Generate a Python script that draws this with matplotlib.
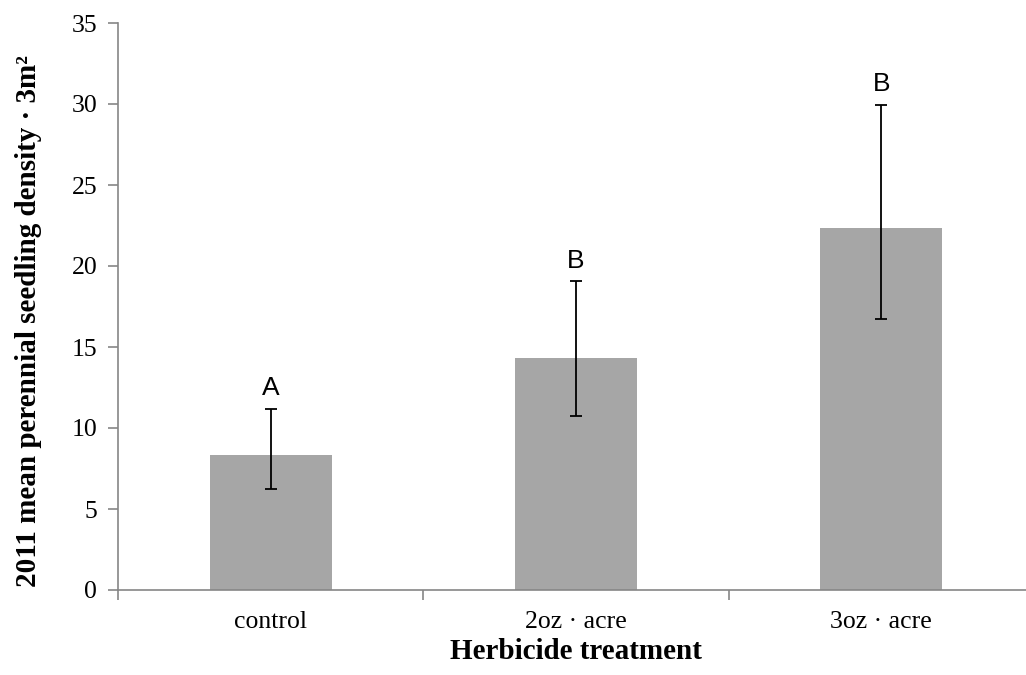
import matplotlib
matplotlib.use("Agg")
import matplotlib.pyplot as plt

treatments = ["control", "2oz \u00b7 acre", "3oz \u00b7 acre"]
density = [8.33, 14.3, 22.35]
err_low = [6.23, 10.72, 16.7]
err_high = [11.2, 19.05, 29.92]
letters = ["A", "B", "B"]

axis_grey = "#868686"
bar_grey = "#A6A6A6"

fig = plt.figure(figsize=(10.26, 6.75), dpi=100)
# axes spans x 118..1034 px, y 23..590 px
ax = fig.add_axes([118 / 1026, 85 / 675, 916 / 1026, 567 / 675])

x = list(range(len(treatments)))
lower = [d - lo for d, lo in zip(density, err_low)]
upper = [hi - d for d, hi in zip(density, err_high)]

ax.bar(x, density, width=0.4, color=bar_grey, zorder=2)
ax.errorbar(x, density, yerr=[lower, upper], fmt="none", ecolor="black",
            elinewidth=1.3, capsize=4.3, capthick=1.3, zorder=3)

for xi, hi, lab in zip(x, err_high, letters):
    ax.annotate(lab, (xi, hi), textcoords="offset points", xytext=(0, 10),
                ha="center", va="baseline", fontsize=19,
                family="Liberation Sans")

ax.set_xlim(-0.5, 2.5)
ax.set_ylim(0, 35)
ax.set_yticks(range(0, 36, 5))

ax.set_xticks([-0.5, 0.5, 1.5, 2.5])
ax.set_xticklabels([])
ax.set_xticks(x, minor=True)
ax.set_xticklabels(treatments, minor=True, fontsize=18.5, family="Liberation Serif")
ax.tick_params(axis="x", which="minor", length=0, pad=15)
ax.tick_params(axis="x", which="major", direction="out", length=7, color=axis_grey, width=1.2)
ax.tick_params(axis="y", direction="out", length=7, color=axis_grey, width=1.2, pad=8)
for t in ax.get_yticklabels():
    t.set_fontsize(18.5)
    t.set_family("Liberation Serif")

for side in ["top", "right"]:
    ax.spines[side].set_visible(False)
for side in ["left", "bottom"]:
    ax.spines[side].set_color(axis_grey)
    ax.spines[side].set_linewidth(1.2)

ax.set_xlabel("Herbicide treatment", fontsize=21, fontweight="bold",
              family="Liberation Serif", labelpad=4)
ax.set_ylabel("2011 mean perennial seedling density \u00b7 3m\u00b2", fontsize=21,
              fontweight="bold", family="Liberation Serif")
ax.yaxis.set_label_coords(-0.083, 0.475)

fig.savefig("out.png", dpi=100)
